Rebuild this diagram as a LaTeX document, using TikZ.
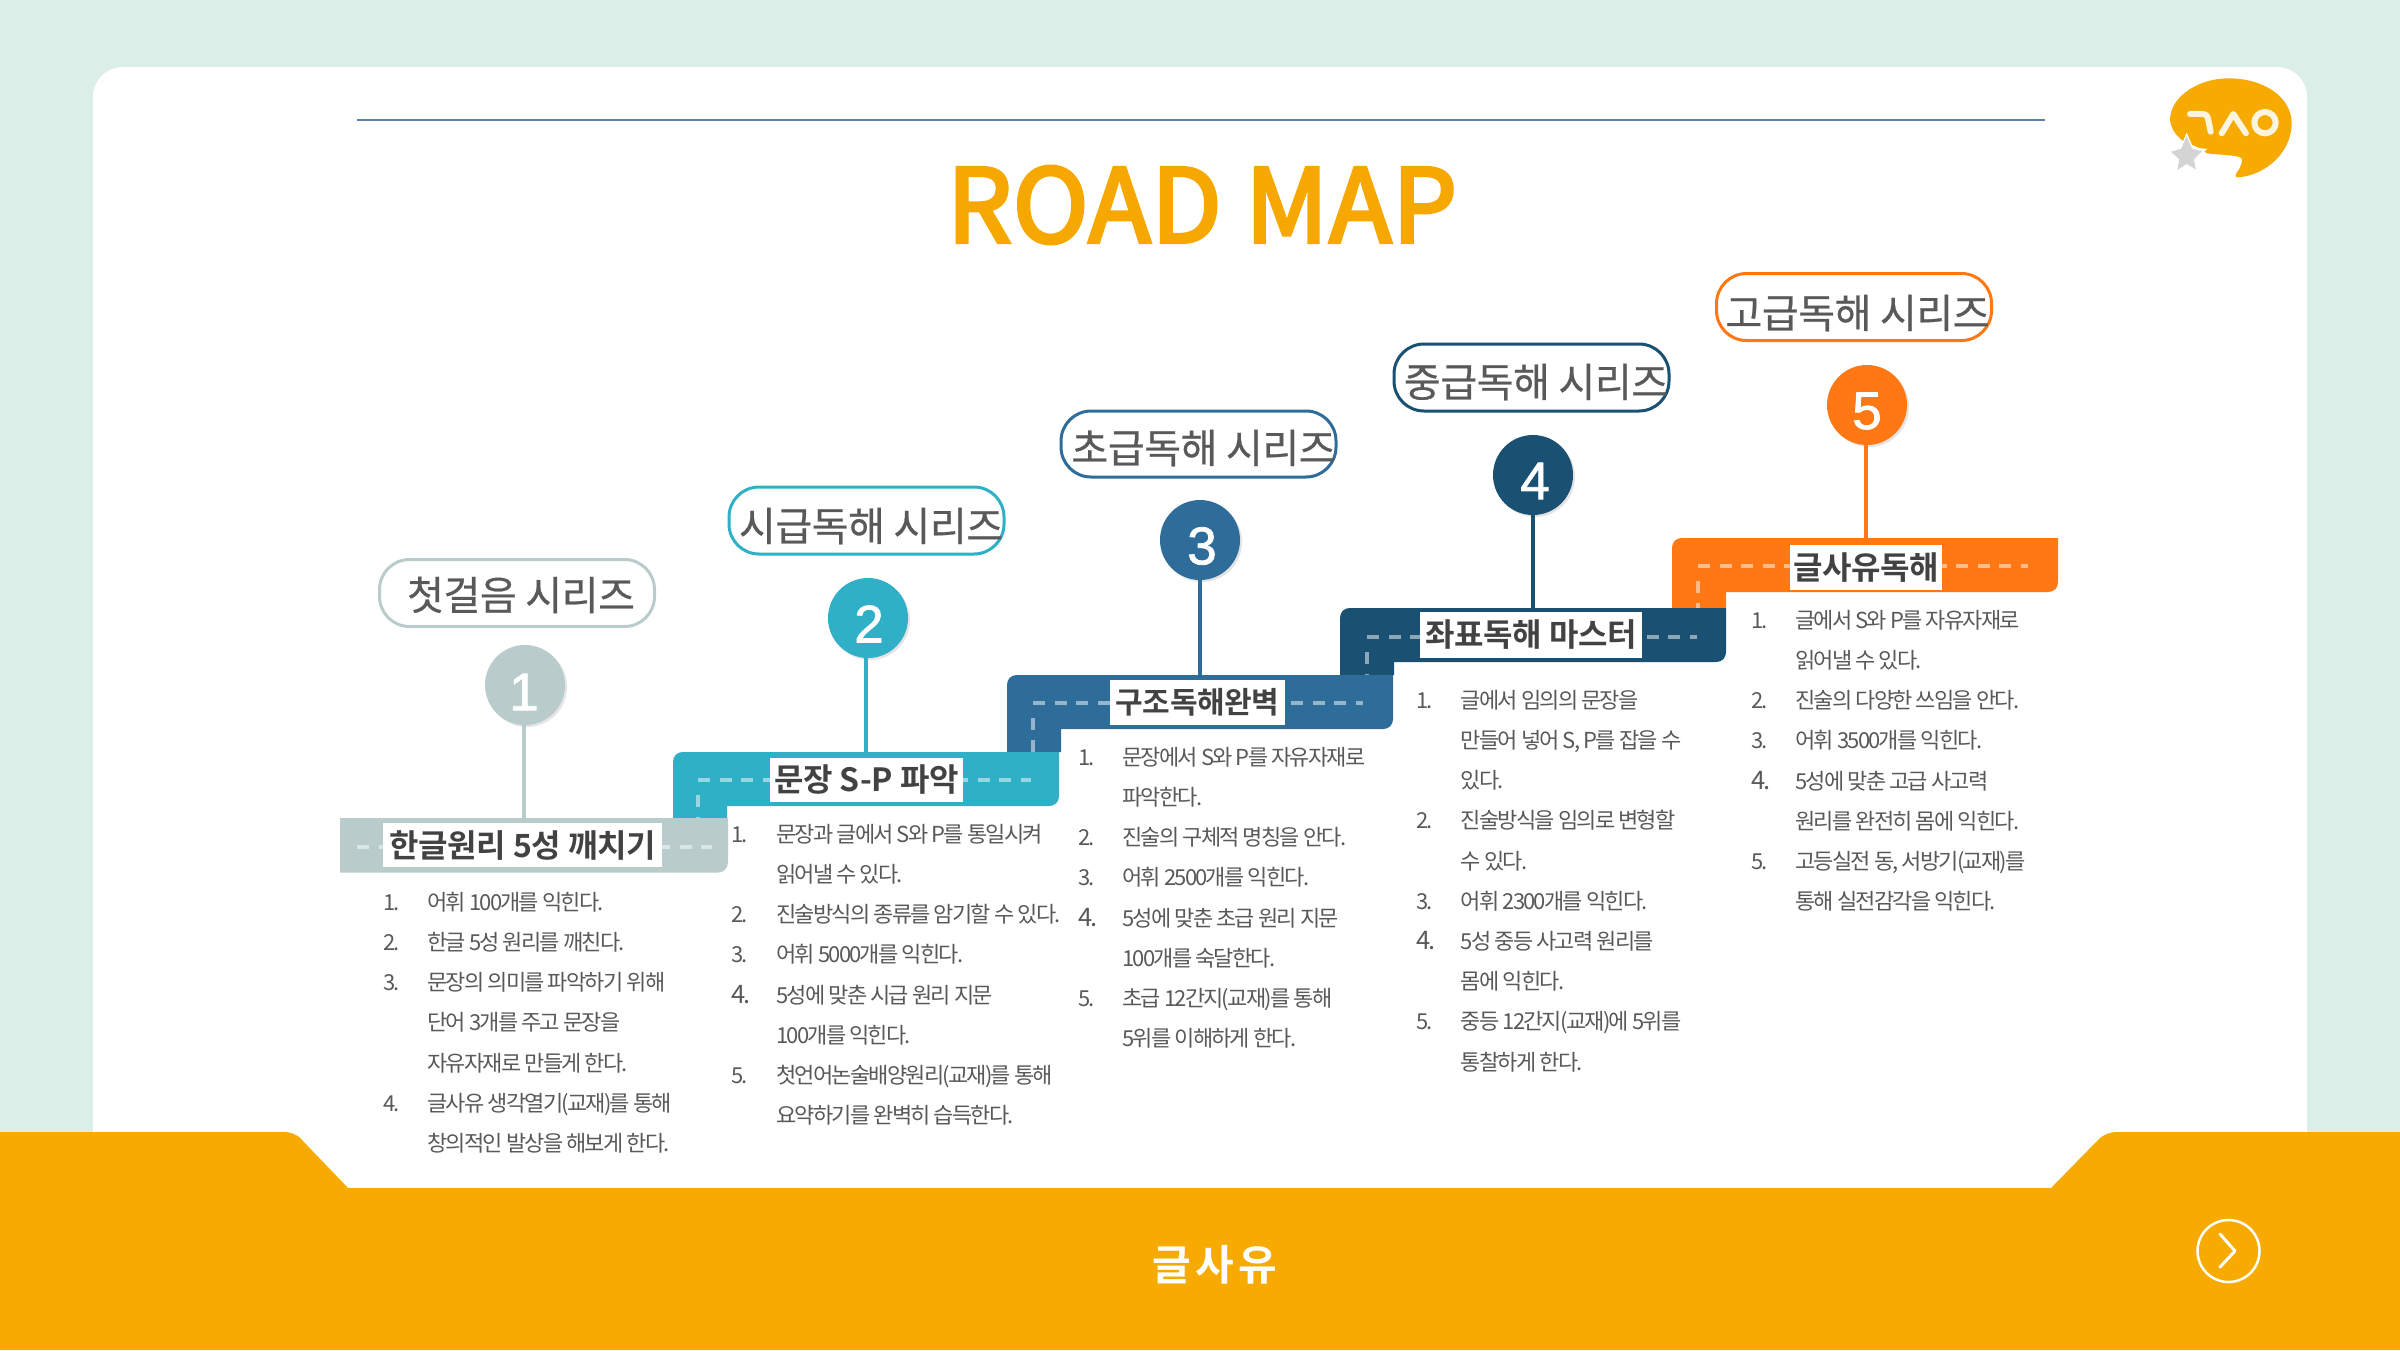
\documentclass[tikz,border=0pt]{standalone}
\usepackage{fontspec}
\usepackage{array}
\setmainfont{Noto Sans CJK KR}
\newfontfamily\krbody[LetterSpace=-8]{Noto Sans CJK KR}
\newfontfamily\krpill[LetterSpace=-1,FakeBold=0.6]{Noto Sans CJK KR}
\newfontfamily\krlabel[LetterSpace=-1]{Noto Sans CJK KR Bold}
\newfontfamily\krtitle[LetterSpace=1,FakeBold=3.5]{Noto Sans CJK KR}
\newfontfamily\krfoot[LetterSpace=10.5]{Noto Sans CJK KR Bold}
\newfontfamily\numfont[FakeBold=1.5]{Liberation Sans}
\definecolor{bgmint}{HTML}{DCEEE8}
\definecolor{amber}{HTML}{F7AB00}
\definecolor{titleamber}{HTML}{F7A800}
\definecolor{toprule}{HTML}{5F82A3}
\definecolor{cone}{HTML}{B9CCCB}
\definecolor{ctwo}{HTML}{2FB0C6}
\definecolor{cthree}{HTML}{2E6C99}
\definecolor{cfour}{HTML}{1A5071}
\definecolor{cfive}{HTML}{FF7814}
\definecolor{txt}{HTML}{595959}
\definecolor{cream}{HTML}{FBF5E0}
\definecolor{shade}{HTML}{E4E4E4}
\tikzset{
  num/.style={circle,minimum size=80pt,inner sep=0pt},
  numshade/.style={circle,minimum size=80pt,inner sep=0pt,fill=shade},
  numtext/.style={inner sep=0pt,text=white,font=\numfont\fontsize{53}{53}\selectfont},
  pill/.style={rounded corners=30pt,line width=3pt,fill=white,inner sep=0pt},
  pilltext/.style={text=txt,inner sep=0pt,font=\krpill\fontsize{40}{40}\selectfont},
  steplabel/.style={fill=white,inner sep=0pt,text=black!74,font=\krlabel\fontsize{32}{32}\selectfont},
  listbox/.style={anchor=north west,inner sep=0pt,text=txt,font=\krbody\fontsize{22}{40.2}\selectfont},
  dashline/.style={white,opacity=.5,line width=4pt,dash pattern=on 12pt off 9.5pt},
  stem/.style={line width=4pt}
}
\newcommand{\stepband}[4]{% x, y, colour, leg bottom
  \fill[#3] ({#1},{#2+10}) .. controls ({#1},{#2+4}) and ({#1+4},{#2}) .. ({#1+10},{#2})
    -- ({#1+386},{#2}) -- ({#1+386},{#2+44})
    .. controls ({#1+386},{#2+50}) and ({#1+382},{#2+54}) .. ({#1+376},{#2+54})
    -- ({#1+54},{#2+54}) -- ({#1+54},{#4}) -- ({#1},{#4}) -- cycle;
}
\newcommand{\bignum}[1]{{\fontsize{25.5}{40.2}\selectfont #1}}
\begin{document}
\begin{tikzpicture}[x=1pt,y=-1pt]
\useasboundingbox (0,0) rectangle (2400,1350);
\fill[bgmint] (0,0) rectangle (2400,1350);
\fill[white,rounded corners=30pt] (93,67) rectangle (2307,1240);

% footer
\fill[amber] (0,1132) -- (283,1132) .. controls (291,1132) and (297,1134) .. (302,1140)
  -- (348,1188) -- (2051,1188) -- (2098,1140) .. controls (2104,1134) and (2110,1132) .. (2118,1132)
  -- (2400,1132) -- (2400,1350) -- (0,1350) -- cycle;
\node[inner sep=0pt,text=white,font=\krfoot\fontsize{42}{42}\selectfont] (foot) at (1215,1264.5) {글사유};
\node[circle,draw=white,line width=2.5pt,minimum size=62pt,inner sep=0pt] (nextbtn) at (2228.5,1251) {};
\draw[white,line width=3pt,line cap=round,line join=round] (2220,1234) -- (2235,1251) -- (2220,1267);

% top rule and title
\draw[toprule,line width=2pt] (357,120) -- (2045,120);
\node[inner sep=0pt,text=titleamber,font=\krtitle\fontsize{102}{102}\selectfont] (title) at (1202,205) {ROAD MAP};

% logo
\begin{scope}[shift={(2100,40)},x=0.3333pt,y=-0.3333pt]
\fill[amber] (248,302) .. controls (225,285) and (210,260) .. (210,235)
  .. controls (215,165) and (300,115) .. (385,115)
  .. controls (490,115) and (575,170) .. (575,250)
  .. controls (575,335) and (500,405) .. (415,412)
  .. controls (405,413) and (405,405) .. (410,398)
  .. controls (420,385) and (430,365) .. (425,355)
  .. controls (415,345) and (360,345) .. (320,340) -- (300,325) -- cycle;
\draw[cream,line width=6pt,line cap=round,line join=round] (270,222) -- (305,222) .. controls (320,222) and (322,228) .. (325,240) -- (332,275);
\draw[cream,line width=6pt,line cap=round,line join=round] (365,280) -- (400,222) -- (438,280);
\draw[cream,line width=6pt] (495,248) circle (32);
\fill[white] (260,278) -- (279,322) -- (322,327) -- (292,352) -- (292,392) -- (260,376) -- (228,394) -- (234,358) -- (208,334) -- (241,322) -- cycle;
\fill[black!17] (260,288) -- (276,326) -- (306,334) -- (281,358) -- (288,388) -- (260,372) -- (232,390) -- (238,358) -- (213,335) -- (244,326) -- cycle;
\end{scope}

% bands
\stepband{1672}{538}{cfive}{608}
\stepband{1340}{608}{cfour}{675}
\stepband{1007}{675}{cthree}{752}
\stepband{673}{752}{ctwo}{818}
\fill[cone] (340,818) -- (728,818) -- (728,862) .. controls (728,868) and (724,872.5) .. (718,872.5) -- (340,872.5) -- cycle;

% dashed road marks
\draw[dashline] (357,846.5) -- (712,846.5);
\draw[dashline] (698,780) -- (1031,780);
\draw[dashline] (698,795) -- (698,818);
\draw[dashline] (1033,703) -- (1363,703);
\draw[dashline] (1033,718) -- (1033,752);
\draw[dashline] (1367,637) -- (1697,637);
\draw[dashline] (1367,652) -- (1367,675);
\draw[dashline] (1698,566) -- (2028,566);
\draw[dashline] (1698,581) -- (1698,608);

% anchor points on the bands
\coordinate (t1) at (524,818);
\coordinate (t2) at (866,752);
\coordinate (t3) at (1200,675);
\coordinate (t4) at (1533,608);
\coordinate (t5) at (1866,538);

% circles
\node[numshade] at (527,687) {};
\node[numshade] at (870,620) {};
\node[numshade] at (1202,542) {};
\node[numshade] at (1535,477) {};
\node[numshade] at (1869,407) {};
\node[num,fill=cone] (c1) at (525,685) {};
\node[num,fill=ctwo] (c2) at (868,618) {};
\node[num,fill=cthree] (c3) at (1200,540) {};
\node[num,fill=cfour] (c4) at (1533,475) {};
\node[num,fill=cfive] (c5) at (1867,405) {};
\node[numtext] (n1) at (524,692) {1};
\node[numtext] (n2) at (869,624) {2};
\node[numtext] (n3) at (1202,546) {3};
\node[numtext] (n4) at (1535,481) {4};
\node[numtext] (n5) at (1867,411) {5};
\draw[cone,stem] (c1.south -| t1) -- (t1);
\draw[ctwo,stem] (c2.south -| t2) -- (t2);
\draw[cthree,stem] (c3.south -| t3) -- (t3);
\draw[cfour,stem] (c4.south -| t4) -- (t4);
\draw[cfive,stem] (c5.south -| t5) -- (t5);

% pills
\node[pill,draw=cone,minimum width=275pt,minimum height=67pt] (p1) at (517,593) {};
\node[pill,draw=ctwo,minimum width=275pt,minimum height=67pt] (p2) at (866.5,520.5) {};
\node[pill,draw=cthree,minimum width=275pt,minimum height=66pt] (p3) at (1198.5,444) {};
\node[pill,draw=cfour,minimum width=275pt,minimum height=67pt] (p4) at (1531.5,377.5) {};
\node[pill,draw=cfive,minimum width=275pt,minimum height=67pt] (p5) at (1854,307) {};
\node[pilltext] (pt1) at (521,595) {첫걸음 시리즈};
\node[pilltext] (pt2) at (871,526) {시급독해 시리즈};
\node[pilltext] (pt3) at (1203.5,448) {초급독해 시리즈};
\node[pilltext] (pt4) at (1536,382) {중급독해 시리즈};
\node[pilltext] (pt5) at (1857.5,313) {고급독해 시리즈};

% step labels
\node[steplabel,minimum width=279pt,minimum height=44pt] (l1) at (522.5,845) {한글원리 5성 깨치기};
\node[steplabel,minimum width=193pt,minimum height=44.5pt] (l2) at (866.5,780) {문장 S-P 파악};
\node[steplabel,minimum width=175pt,minimum height=45pt,font=\krlabel\fontsize{30}{30}\selectfont] (l3) at (1197.5,702.5) {구조독해완벽};
\node[steplabel,minimum width=222pt,minimum height=46pt] (l4) at (1531,635) {좌표독해 마스터};
\node[steplabel,minimum width=152pt,minimum height=45pt] (l5) at (1866,567.5) {글사유독해};

% lists
\node[listbox] (list1) at (383,882) {\begin{tabular}{@{}p{44pt}@{}l@{}}
1.&어휘 100개를 익힌다.\\
2.&한글 5성 원리를 깨친다.\\
3.&문장의 의미를 파악하기 위해\\
&단어 3개를 주고 문장을\\
&자유자재로 만들게 한다.\\
4.&글사유 생각열기(교재)를 통해\\
&창의적인 발상을 해보게 한다.
\end{tabular}};
\node[listbox] (list2) at (731,814) {\begin{tabular}{@{}p{45pt}@{}l@{}}
1.&문장과 글에서 S와 P를 통일시켜\\
&읽어낼 수 있다.\\
2.&진술방식의 종류를 암기할 수 있다.\\
3.&어휘 5000개를 익힌다.\\
\bignum{4.}&5성에 맞춘 시급 원리 지문\\
&100개를 익힌다.\\
5.&첫언어논술배양원리(교재)를 통해\\
&요약하기를 완벽히 습득한다.
\end{tabular}};
\node[listbox] (list3) at (1078,737) {\begin{tabular}{@{}p{44pt}@{}l@{}}
1.&문장에서 S와 P를 자유자재로\\
&파악한다.\\
2.&진술의 구체적 명칭을 안다.\\
3.&어휘 2500개를 익힌다.\\
\bignum{4.}&5성에 맞춘 초급 원리 지문\\
&100개를 숙달한다.\\
5.&초급 12간지(교재)를 통해\\
&5위를 이해하게 한다.
\end{tabular}};
\node[listbox] (list4) at (1416,680) {\begin{tabular}{@{}p{44.5pt}@{}l@{}}
1.&글에서 임의의 문장을\\
&만들어 넣어 S, P를 잡을 수\\
&있다.\\
2.&진술방식을 임의로 변형할\\
&수 있다.\\
3.&어휘 2300개를 익힌다.\\
\bignum{4.}&5성 중등 사고력 원리를\\
&몸에 익힌다.\\
5.&중등 12간지(교재)에 5위를\\
&통찰하게 한다.
\end{tabular}};
\node[listbox] (list5) at (1751,600) {\begin{tabular}{@{}p{44pt}@{}l@{}}
1.&글에서 S와 P를 자유자재로\\
&읽어낼 수 있다.\\
2.&진술의 다양한 쓰임을 안다.\\
3.&어휘 3500개를 익힌다.\\
\bignum{4.}&5성에 맞춘 고급 사고력\\
&원리를 완전히 몸에 익힌다.\\
5.&고등실전 동, 서방기(교재)를\\
&통해 실전감각을 익힌다.
\end{tabular}};
\end{tikzpicture}
\end{document}
